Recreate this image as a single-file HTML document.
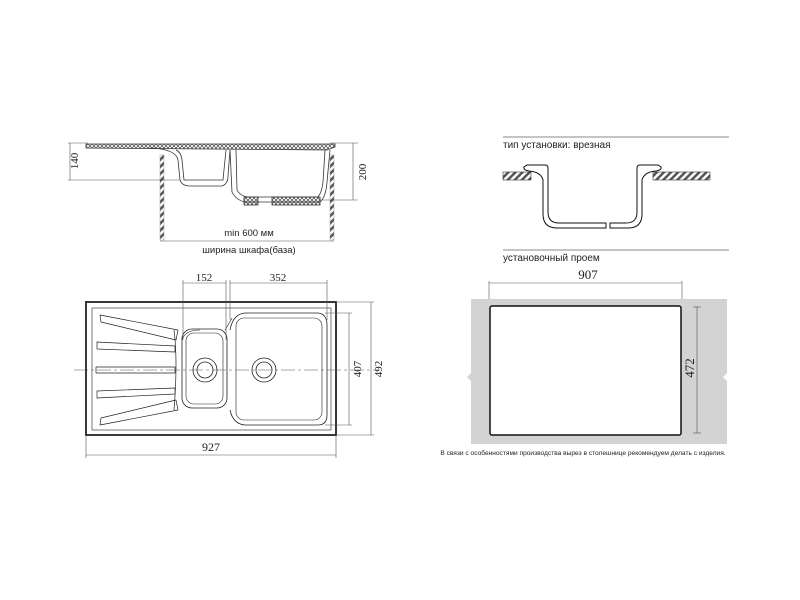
<!DOCTYPE html>
<html><head><meta charset="utf-8"><style>
html,body{margin:0;padding:0;background:#fff;}
svg{display:block;}
text{font-family:"Liberation Sans",sans-serif;fill:#222;}
.s{font-family:"Liberation Serif",serif;}
</style></head><body>
<svg width="800" height="600" viewBox="0 0 800 600" xmlns="http://www.w3.org/2000/svg">
<defs>
<pattern id="h" width="5" height="5" patternUnits="userSpaceOnUse" patternTransform="rotate(45)">
<rect width="5" height="5" fill="#fff"/><rect width="2.5" height="5" fill="#555"/></pattern>
<pattern id="x" width="4" height="4" patternUnits="userSpaceOnUse"><path d="M0 0L4 4M4 0L0 4" stroke="#444" stroke-width="0.7"/></pattern>
</defs>
<!-- LEFT TOP SECTION -->
<g fill="none" stroke="#333" stroke-width="0.8">
<path d="M86 144 L335 144 L335 147 L327 150 L86 148 Z" fill="url(#x)"/>
<path d="M150 148 Q176 149 178 160 L180 180 Q182 186 190 186 L222 186 Q228 184 228 176 L230 150"/>
<path d="M176 150 Q181 152 182 160 L184 180 L223 180 L226 150"/>
<path d="M230 150 L232 192 Q236 200 245 202 L320 202 Q326 197 327 182 L330 150"/>
<path d="M236 150 L237 190 Q240 196 248 197 L318 197 Q322 192 323 182 L325 150"/>
<rect x="244" y="197" width="14" height="8" fill="url(#x)"/>
<rect x="272" y="197" width="48" height="8" fill="url(#x)"/>
</g>
<rect x="160" y="155" width="4" height="85" fill="url(#h)" stroke="#999" stroke-width="0.5"/>
<rect x="330" y="155" width="4" height="85" fill="url(#h)" stroke="#999" stroke-width="0.5"/>
<g stroke="#555" stroke-width="0.6">
<line x1="68" y1="143" x2="88" y2="143"/><line x1="68" y1="180" x2="180" y2="180"/><line x1="70" y1="143" x2="70" y2="180"/>
<line x1="330" y1="143" x2="358" y2="143"/><line x1="320" y1="200" x2="358" y2="200"/><line x1="353" y1="143" x2="353" y2="200"/>
<line x1="160" y1="241" x2="334" y2="241"/>
</g>
<text x="78" y="161" font-size="11" class="s" transform="rotate(-90 78 161)" text-anchor="middle">140</text>
<text x="366" y="172" font-size="11" class="s" transform="rotate(-90 366 172)" text-anchor="middle">200</text>
<text x="249" y="236" font-size="9.5" text-anchor="middle">min 600 мм</text>
<text x="249" y="253" font-size="9.5" text-anchor="middle">ширина шкафа(база)</text>
<!-- PLAN VIEW -->
<g fill="none" stroke="#222">
<rect x="86" y="302" width="250" height="133" stroke-width="1.8"/>
<rect x="92" y="308" width="239" height="122" stroke-width="0.6"/>
<rect x="182" y="329" width="45" height="79" rx="10" stroke-width="0.8"/>
<rect x="186" y="333" width="37" height="71" rx="8" stroke-width="0.6"/>
<path d="M230 330 Q233 314 245 313 L318 313 Q327 314 327 325 L327 415 Q327 425 318 425 L245 425 Q233 424 230 410" stroke-width="0.8"/>
<rect x="236" y="318" width="86" height="102" rx="8" stroke-width="0.6"/>
<path d="M182 340 Q185 330 200 330 M225 330 Q230 322 232 318" stroke-width="0.6"/>
<circle cx="205" cy="370" r="12" stroke-width="0.8"/><circle cx="205" cy="370" r="8" stroke-width="0.8"/>
<circle cx="264" cy="370" r="12" stroke-width="0.8"/><circle cx="264" cy="370" r="8" stroke-width="0.8"/>
<g stroke-width="0.7" stroke-linejoin="round">
<path d="M100 315 L178 330 L176 340 L101 322 Z"/>
<path d="M97 342 L175 346 L175 352 L97 349 Z"/>
<path d="M96 367 L175 367 L175 373 L96 373 Z"/>
<path d="M97 391 L175 388 L175 394 L97 398 Z"/>
<path d="M101 418 L176 400 L178 410 L100 425 Z"/>
<path d="M174 330 Q178 360 174 410" />
</g>
</g>
<g stroke="#555" stroke-width="0.6" fill="none">
<line x1="74" y1="370" x2="380" y2="370" stroke-dasharray="14 3 3 3"/>
<line x1="183" y1="280" x2="183" y2="340"/><line x1="226" y1="280" x2="226" y2="340"/>
<line x1="230" y1="280" x2="230" y2="320"/><line x1="327" y1="280" x2="327" y2="320"/>
<line x1="183" y1="283" x2="226" y2="283"/><line x1="230" y1="283" x2="327" y2="283"/>
<line x1="325" y1="313" x2="352" y2="313"/><line x1="325" y1="425" x2="352" y2="425"/><line x1="349" y1="313" x2="349" y2="425"/>
<line x1="336" y1="302" x2="374" y2="302"/><line x1="336" y1="435" x2="374" y2="435"/><line x1="371" y1="302" x2="371" y2="435"/>
<line x1="86" y1="435" x2="86" y2="458"/><line x1="336" y1="435" x2="336" y2="458"/><line x1="86" y1="455" x2="336" y2="455"/>
</g>
<text x="204" y="281" font-size="11" class="s" text-anchor="middle">152</text>
<text x="278" y="281" font-size="11" class="s" text-anchor="middle">352</text>
<text x="361" y="369" font-size="11" class="s" transform="rotate(-90 361 369)" text-anchor="middle">407</text>
<text x="382" y="369" font-size="11" class="s" transform="rotate(-90 382 369)" text-anchor="middle">492</text>
<text x="211" y="451" font-size="12" class="s" text-anchor="middle">927</text>
<!-- RIGHT -->
<line x1="503" y1="137" x2="729" y2="137" stroke="#888" stroke-width="1"/>
<text x="503" y="148" font-size="10">тип установки: врезная</text>
<rect x="503" y="172" width="28" height="8" fill="url(#h)" stroke="#333" stroke-width="0.6"/>
<rect x="653" y="172" width="57" height="8" fill="url(#h)" stroke="#333" stroke-width="0.6"/>
<path d="M527 165 L545 165 Q548 165 548 168 L548 212 Q548 223 559 223 L606 223 L606 228 L557 228 Q543 228 543 214 L543 180 Q541 172 529 171 Q523 170 524 167 Z" fill="#fff" stroke="#111" stroke-width="1"/>
<path d="M658 165 L640 165 Q637 165 637 168 L637 212 Q637 223 626 223 L610 223 L610 228 L628 228 Q642 228 642 214 L642 180 Q644 172 656 171 Q662 170 661 167 Z" fill="#fff" stroke="#111" stroke-width="1"/>
<line x1="503" y1="250" x2="729" y2="250" stroke="#888" stroke-width="1"/>
<text x="503" y="261" font-size="10">установочный проем</text>
<text x="588" y="279" font-size="13" class="s" text-anchor="middle">907</text>
<g stroke="#555" stroke-width="0.6"><line x1="489" y1="283" x2="682" y2="283"/><line x1="489" y1="281" x2="489" y2="300"/><line x1="682" y1="281" x2="682" y2="300"/></g>
<path d="M471 299 L727 299 L727 373 L723 377 L727 381 L727 444 L471 444 L471 381 L467 377 L471 373 Z" fill="#d3d3d3"/>
<rect x="490" y="306" width="191" height="129" rx="2" fill="#fff" stroke="#111" stroke-width="1.5"/>
<g stroke="#555" stroke-width="0.6"><line x1="697" y1="307" x2="697" y2="433"/><line x1="693" y1="307" x2="701" y2="307"/><line x1="693" y1="433" x2="701" y2="433"/></g>
<text x="694" y="368" font-size="13" class="s" transform="rotate(-90 694 368)" text-anchor="middle">472</text>
<text x="583" y="455" font-size="6.6" text-anchor="middle">В связи с особенностями производства вырез в столешнице рекомендуем делать с изделия.</text>
</svg>
</body></html>
